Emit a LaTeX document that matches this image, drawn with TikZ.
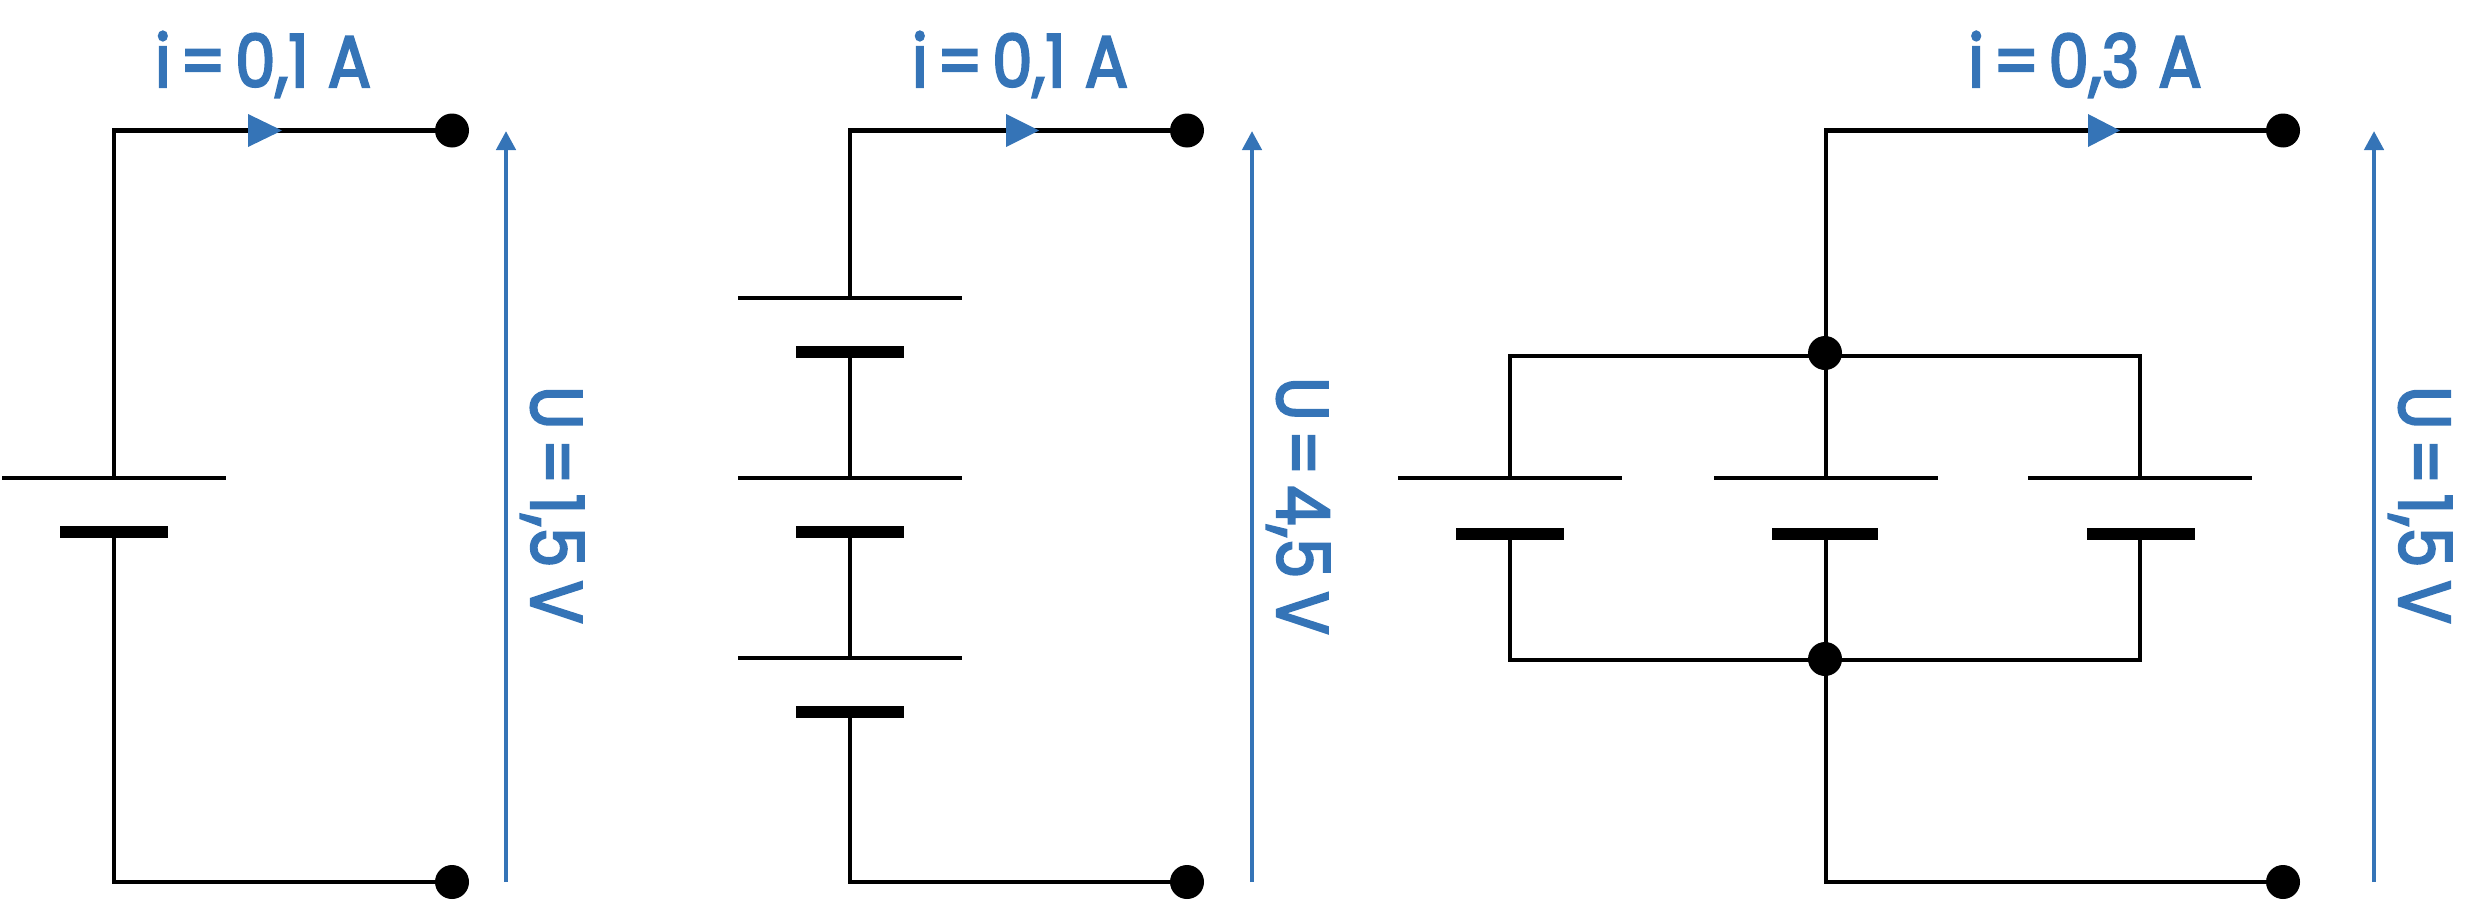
\documentclass[tikz,border=0pt]{standalone}
\usepackage{fontspec}
\setmainfont{Poppins}[FakeBold=3,FakeStretch=0.88]
\usetikzlibrary{arrows.meta}
\definecolor{bl}{HTML}{3574B7}
\newcommand{\tightspace}{\spaceskip=9pt plus 0pt minus 0pt\relax}
\tikzset{
  x=1pt,y=-1pt,
  wire/.style={draw=black,line width=4.4pt},
  longplate/.style={draw=black,line width=4.4pt},
  shortplate/.style={draw=black,line width=12pt},
  dotnode/.style={circle,fill=black,inner sep=0pt,minimum size=34pt},
  curtip/.style={fill=bl,draw=none},
  volt/.style={draw=bl,line width=4.4pt,-{Triangle[length=19pt,width=19pt,fill=bl]}},
  lbl/.style={text=bl,font=\fontsize{73}{73}\selectfont,inner sep=0pt,anchor=base,execute at begin node=\tightspace},
}
\begin{document}
\begin{tikzpicture}
\useasboundingbox (0,0) rectangle (2488,902);
% Circuit 1
\node[dotnode] (t1) at (452,130.5) {};
\node[dotnode] (b1) at (452,882) {};
\coordinate (a1) at (114,478);
\coordinate (c1) at (114,532);
\draw[wire] (t1.center) -| (a1);
\draw[wire] (b1.center) -| (c1);
\coordinate (p1l) at (2,478); \coordinate (p1r) at (226,478);
\coordinate (s1l) at (60,532); \coordinate (s1r) at (168,532);
\draw[longplate] (p1l) -- (p1r);
\draw[shortplate] (s1l) -- (s1r);
\fill[curtip] (248,114) -- (282,130.5) -- (248,147) -- cycle;
\coordinate (v1b) at (506,882); \coordinate (v1t) at (506,131);
\draw[volt] (v1b) -- (v1t);
\node[lbl] (i1) at (263,87) {i = 0,1\kern10pt{} A};
\node[lbl,rotate=-90] (u1) at (531,505) {U = 1,5\kern4pt{} V};
% Circuit 2
\node[dotnode] (t2) at (1187,130.5) {};
\node[dotnode] (b2) at (1187,882) {};
\coordinate (a2) at (850,298);
\coordinate (c2) at (850,712);
\draw[wire] (t2.center) -| (a2);
\draw[wire] (b2.center) -| (c2);
\coordinate (m2a) at (850,352); \coordinate (m2b) at (850,478);
\coordinate (m2c) at (850,532); \coordinate (m2d) at (850,658);
\draw[wire] (m2a) -- (m2b);
\draw[wire] (m2c) -- (m2d);
\foreach \y in {298,478,658}{\draw[longplate] (738,\y) -- (962,\y);}
\foreach \y in {352,532,712}{\draw[shortplate] (796,\y) -- (904,\y);}
\fill[curtip] (1006,114) -- (1039,130.5) -- (1006,147) -- cycle;
\coordinate (v2b) at (1252,882); \coordinate (v2t) at (1252,131);
\draw[volt] (v2b) -- (v2t);
\node[lbl] (i2) at (1020,87) {i = 0,1\kern10pt{} A};
\node[lbl,rotate=-90] (u2) at (1277,506) {U = 4,5\kern4pt{} V};
% Circuit 3
\node[dotnode] (t3) at (2283,130.5) {};
\node[dotnode] (b3) at (2283,882) {};
\node[dotnode] (j1) at (1825,353) {};
\node[dotnode] (j2) at (1825,659) {};
\coordinate (jt) at (1826,353); \coordinate (jb) at (1826,659);
\draw[wire] (t3.center) -| (jt);
\draw[wire] (b3.center) -| (jb);
\coordinate (la) at (1510,478); \coordinate (lc) at (1510,534);
\coordinate (ma) at (1826,478); \coordinate (mc) at (1826,534);
\coordinate (ra) at (2140,478); \coordinate (rc) at (2140,534);
\draw[wire] (la) |- (1826,356) -| (ra);
\draw[wire] (jt) -- (ma);
\draw[wire] (lc) |- (1826,660) -| (rc);
\draw[wire] (jb) -- (mc);
\draw[longplate] (1398,478) -- (1622,478);
\draw[longplate] (1714,478) -- (1938,478);
\draw[longplate] (2028,478) -- (2252,478);
\draw[shortplate] (1456,534) -- (1564,534);
\draw[shortplate] (1772,534) -- (1878,534);
\draw[shortplate] (2087,534) -- (2195,534);
\fill[curtip] (2088,114) -- (2120,130.5) -- (2088,147) -- cycle;
\coordinate (v3b) at (2374,882); \coordinate (v3t) at (2374,131);
\draw[volt] (v3b) -- (v3t);
\node[lbl] (i3) at (2085,87) {i = 0,3\kern10pt{} A};
\node[lbl,rotate=-90] (u3) at (2399,505) {U = 1,5\kern4pt{} V};
\end{tikzpicture}
\end{document}
